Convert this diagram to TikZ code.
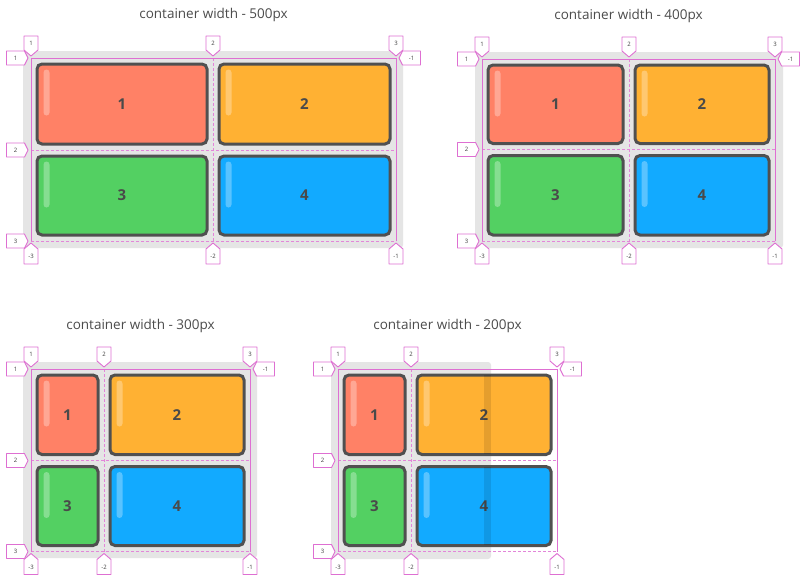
\documentclass[tikz,border=0pt]{standalone}
\usepackage{fontspec}
\setmainfont{Open Sans}
\usetikzlibrary{calc}
\definecolor{gsalmon}{HTML}{FF8166}
\definecolor{gorange}{HTML}{FFB133}
\definecolor{ggreen}{HTML}{53D062}
\definecolor{gblue}{HTML}{12AAFF}
\definecolor{gborder}{HTML}{505050}
\definecolor{gbg}{HTML}{E5E5E5}
\definecolor{gpink}{HTML}{DE6FD2}
\definecolor{gtext}{HTML}{4A4A4A}
\tikzset{
  gitem/.style={draw=gborder, line width=3pt, rounded corners=5pt, inner sep=0pt, text=gtext, font=\fontsize{15}{15}\selectfont\bfseries},
  gshine/.style={fill=white, opacity=0.3, rounded corners=3pt},
  gsolid/.style={draw=gpink, line width=0.8pt},
  gdash/.style={draw=gpink!85, line width=0.8pt, dash pattern=on 3pt off 2pt},
  gtag/.style={draw=gpink, line width=0.9pt, fill=white, line join=round},
  gtagtext/.style={inner sep=0pt, text=black!75, font=\fontsize{6}{6}\selectfont},
  gtitle/.style={inner sep=0pt, text=black!70, font=\fontsize{13.5}{13.5}\selectfont},
  gbox/.style={fill=gbg, rounded corners=3pt},
}
\def\gitem#1#2(#3,#4,#5,#6)#7{\node[gitem, fill=#2, minimum width={(#5)-(#3)-3}, minimum height={(#6)-(#4)-3}] (#1) at ({((#3)+(#5))/2},{((#4)+(#6))/2}) {#7};
  \fill[gshine] ($(#1.north west)+(8,7)$) rectangle ++(6,46);}
\def\tagtop#1(#2,#3)#4{\draw[gtag] (#2,#3) -- ++(-7,-6) -- ++(0,-14) -- ++(14,0) -- ++(0,14) -- cycle; \node[gtagtext] (#1) at (#2,#3-13) {#4};}
\def\tagbot#1(#2,#3)#4{\draw[gtag] (#2,#3) -- ++(-7,6) -- ++(0,15) -- ++(14,0) -- ++(0,-15) -- cycle; \node[gtagtext] (#1) at (#2,#3+13.5) {#4};}
\def\tagleft#1(#2,#3)#4{\draw[gtag] (#2,#3) -- ++(-3.5,-7) -- ++(-18,0) -- ++(0,14) -- ++(18,0) -- cycle; \node[gtagtext] (#1) at (#2-12.5,#3) {#4};}
\def\tagright#1(#2,#3)#4{\draw[gtag] (#2,#3) -- ++(3.5,-7) -- ++(18,0) -- ++(0,14) -- ++(-18,0) -- cycle; \node[gtagtext] (#1) at (#2+12.5,#3) {#4};}
% name (left, middle column, right, top, middle row, bottom) width
\def\gpanel#1(#2,#3,#4,#5,#6,#7)#8{%
  \draw[gdash] (#3,#5) -- (#3,#7);
  \draw[gdash] (#2,#6) -- (#4,#6);
  \draw[gdash] (#2,#7) -- (#4,#7);
  \draw[gsolid] (#2,#7) -- (#2,#5) -- (#4,#5) -- (#4,#7);
  \gitem{#1-1}{gsalmon}(#2+4.5,#5+4.5,#3-4.5,#6-4.5){1}
  \gitem{#1-2}{gorange}(#3+4.5,#5+4.5,#4-4.5,#6-4.5){2}
  \gitem{#1-3}{ggreen}(#2+4.5,#6+4.5,#3-4.5,#7-4.5){3}
  \gitem{#1-4}{gblue}(#3+4.5,#6+4.5,#4-4.5,#7-4.5){4}
  \tagleft{#1-r1}(#2-3,#5){1}
  \tagleft{#1-r2}(#2-3,#6){2}
  \tagleft{#1-r3}(#2-3,#7){3}
  \tagright{#1-rn}(#4+3,#5){-1}
  \tagtop{#1-c1}(#2,#5-2){1}
  \tagtop{#1-c2}(#3,#5-2){2}
  \tagtop{#1-c3}(#4,#5-2){3}
  \tagbot{#1-n3}(#2,#7+2){-3}
  \tagbot{#1-n2}(#3,#7+2){-2}
  \tagbot{#1-n1}(#4,#7+2){-1}
  \node[gtitle] (#1-title) at ({((#2)+(#4))/2},#5-43) {container width - #8px};
}

\begin{document}
\begin{tikzpicture}[x=1pt, y=-1pt]
  %%%%% START %%%%%
  \fill[white] (0,0) rectangle (811,582);
  \useasboundingbox (0,0) rectangle (811,582);

  % 500px
  \fill[gbox] (23,51) rectangle (403,248);
  \gpanel{p1}(31,213,396,58,150,241){500}

  % 400px
  \fill[gbox] (475,52) rectangle (783,248);
  \gpanel{p2}(482,629,775,59,149.5,241){400}

  % 300px
  \fill[gbox] (23,362) rectangle (257,558);
  \gpanel{p3}(31,104,250,369,460.5,551.5){300}

  % 200px, grid overflows the container
  \fill[gbox] (331,362) rectangle (491,559);
  \gpanel{p4}(338,411,557,369,460.5,551.5){200}
  \fill[black, opacity=0.1] (484,375) rectangle (491,454);
  \fill[black, opacity=0.1] (484,467) rectangle (491,545);
  %%%%% END %%%%%
\end{tikzpicture}
\end{document}
